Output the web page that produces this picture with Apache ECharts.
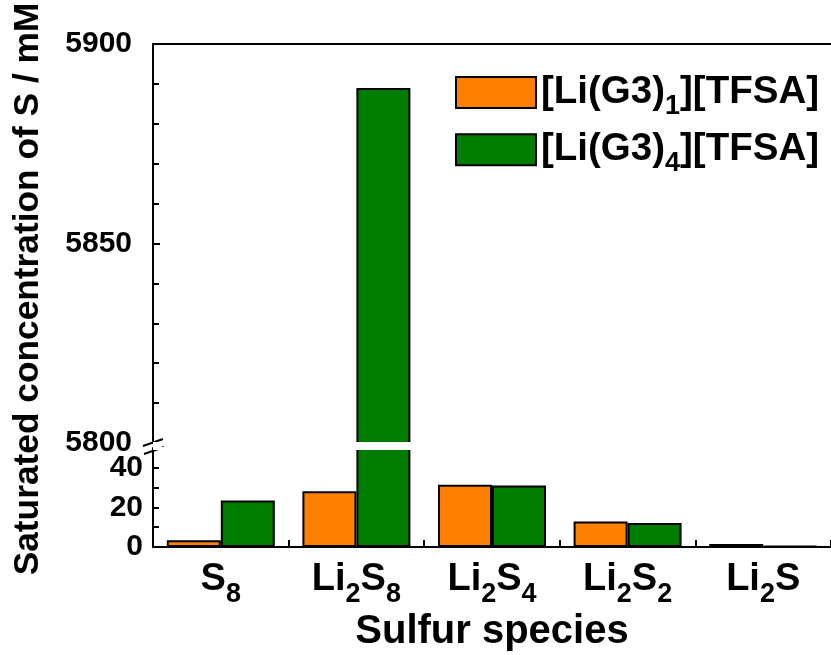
<!DOCTYPE html>
<html><head><meta charset="utf-8">
<script src="https://cdn.jsdelivr.net/npm/echarts@6/dist/echarts.min.js"></script>
<style>html,body{margin:0;padding:0;background:#fff}#c{width:831px;height:655px}</style>
</head><body><div id="c"></div>
<script>
// ---- data ----
const categories = ['S8', 'Li2S8', 'Li2S4', 'Li2S2', 'Li2S'];
const seriesNames = ['[Li(G3)1][TFSA]', '[Li(G3)4][TFSA]'];
const g3_1 = [3.4, 28.2, 31.5, 12.9, 1.5];
const g3_4 = [23.5, 5889, 31, 12.1, 0.5];
const upperTicks = [5800, 5850, 5900];
const lowerTicks = [0, 20, 40];
const lowerMax = 50;
const xTitle = 'Sulfur species';
const yTitle = 'Saturated concentration of S / mM';

// ---- style ----
const FONT = "'Liberation Sans', Arial, Helvetica, sans-serif";
const ORANGE = '#FF8000';
const GREEN = '#007D00';
const L = 153, W = 683, TOP = 44, UPPER_H = 399, LOWER_TOP = 448, LOWER_BOTTOM = 108;

const catFmt = v => v.replace(/([A-Za-z]+)|(\d+)/g, (m, a, d) => a ? `{b|${a}}` : `{s|${d}}`);
const legFmt = n => n.replace(/^(.*\))(\d)(\].*)$/, (m, a, d, c) => `{b|${a}}{s|${d}}{b|${c}}`);

function rich(big, small, pad) {
  return {
    b: { fontSize: big, fontWeight: 'bold', fontFamily: FONT, color: '#000', lineHeight: big },
    s: { fontSize: small, fontWeight: 'bold', fontFamily: FONT, color: '#000', lineHeight: small,
         verticalAlign: 'top', padding: [pad, 0, 0, 0] }
  };
}

const axisLineStyle = { color: '#000', width: 2 };
const yLabel = (margin, fmt) => ({ margin, fontSize: 30, fontWeight: 'bold', color: '#000', fontFamily: FONT, formatter: fmt });

function barSeries(idx, name, data, color, markVal) {
  const s = {
    name, type: 'bar', xAxisIndex: idx, yAxisIndex: idx, data,
    barWidth: 54, barGap: '0%', clip: true,
    itemStyle: { color, borderColor: '#000', borderWidth: 2 },
    emphasis: { disabled: true }
  };
  if (markVal !== undefined) {
    s.markLine = {
      silent: true, symbol: 'none', z: 20, label: { show: false },
      lineStyle: { color: '#fff', width: 3.2, type: 'solid' },
      data: [{ yAxis: markVal }]
    };
  }
  return s;
}

const chart = echarts.init(document.getElementById('c'), null, { renderer: 'canvas' });
chart.setOption({
  animation: false,
  backgroundColor: '#fff',
  textStyle: { fontFamily: FONT },
  grid: [
    { left: L, top: TOP, width: W, height: UPPER_H },
    { left: L, top: LOWER_TOP, width: W, bottom: LOWER_BOTTOM }
  ],
  legend: {
    orient: 'vertical', left: 455, top: 73, padding: 0,
    itemWidth: 80, itemHeight: 31, itemGap: 10, icon: 'rect',
    data: seriesNames, formatter: legFmt,
    itemStyle: { borderColor: '#000', borderWidth: 2 },
    textStyle: { color: '#000', rich: rich(38.5, 27, 20) }
  },
  xAxis: [
    { type: 'category', gridIndex: 0, data: categories, position: 'top',
      axisLine: { lineStyle: axisLineStyle }, axisTick: { show: false },
      axisLabel: { show: false }, splitLine: { show: false } },
    { type: 'category', gridIndex: 1, data: categories, position: 'bottom',
      axisLine: { lineStyle: axisLineStyle },
      axisTick: { show: true, inside: true, length: 7, lineStyle: { color: '#000', width: 2 } },
      axisLabel: { margin: 14, formatter: catFmt, rich: rich(38, 27, 20) },
      splitLine: { show: false },
      name: xTitle, nameLocation: 'middle', nameGap: 65,
      nameTextStyle: { fontSize: 40, fontWeight: 'bold', color: '#000', fontFamily: FONT } }
  ],
  yAxis: [
    { type: 'value', gridIndex: 0, min: upperTicks[0], max: upperTicks[upperTicks.length - 1],
      interval: upperTicks[1] - upperTicks[0],
      axisLine: { show: true, lineStyle: axisLineStyle },
      axisTick: { show: true, inside: true, length: 7, lineStyle: { color: '#000', width: 2 } },
      minorTick: { show: true, splitNumber: 5, length: 6, lineStyle: { color: '#000', width: 2 } },
      splitLine: { show: false },
      axisLabel: yLabel(21, v => String(v)) },
    { type: 'value', gridIndex: 1, min: 0, max: lowerMax, interval: 10,
      axisLine: { show: true, lineStyle: axisLineStyle },
      axisTick: { show: true, inside: true, length: 6, lineStyle: { color: '#000', width: 2 } },
      splitLine: { show: false },
      axisLabel: yLabel(10, v => lowerTicks.includes(v) ? String(v) : '') }
  ],
  series: [
    barSeries(0, seriesNames[0], g3_1, ORANGE),
    barSeries(0, seriesNames[1], g3_4, GREEN, upperTicks[0]),
    barSeries(1, seriesNames[0], g3_1, ORANGE),
    barSeries(1, seriesNames[1], g3_4, GREEN, lowerMax)
  ],
  graphic: [
    { type: 'text', x: 28, y: 289, rotation: Math.PI / 2,
      style: { text: yTitle, fontSize: 35.3, fontWeight: 'bold', fontFamily: FONT, fill: '#000',
               align: 'center', verticalAlign: 'middle' } },
    { type: 'line', shape: { x1: 143, y1: 446, x2: 163, y2: 439 }, style: { stroke: '#000', lineWidth: 2 } },
    { type: 'line', shape: { x1: 144, y1: 454, x2: 164, y2: 447 }, style: { stroke: '#000', lineWidth: 2 } }
  ]
});
</script>
</body></html>
